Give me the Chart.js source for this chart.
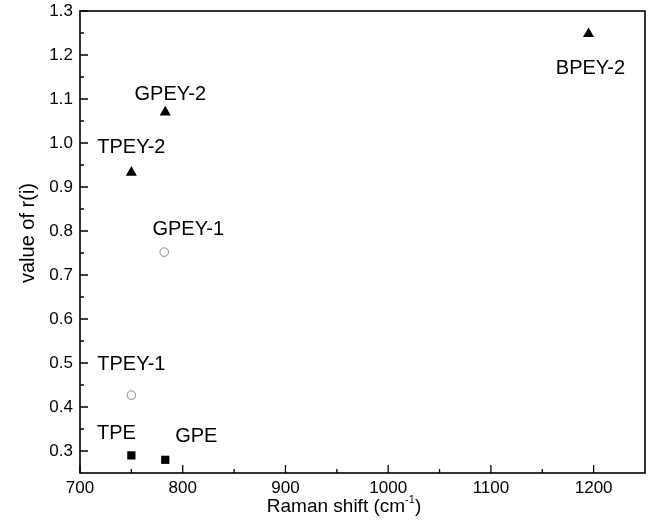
<!DOCTYPE html>
<html>
<head>
<meta charset="utf-8">
<script src="https://cdn.jsdelivr.net/npm/chart.js@4"></script>
<style>
  body { margin: 0; background: #fff; }
  #wrap { width: 652px; height: 528px; }
</style>
</head>
<body>
<div id="wrap"><canvas id="c" width="652" height="528"></canvas></div>
<script>
// r(i) values vs Raman shift
const squareNames = ['TPE', 'GPE'];
const squareX = [750, 783];
const squareY = [0.29, 0.28];

const circleNames = ['TPEY-1', 'GPEY-1'];
const circleX = [750, 782];
const circleY = [0.427, 0.752];

const triNames = ['TPEY-2', 'GPEY-2', 'BPEY-2'];
const triX = [750, 783, 1195];
const triY = [0.933, 1.07, 1.248];

const xTicks = [700, 800, 900, 1000, 1100, 1200];
const yTicks = [0.3, 0.4, 0.5, 0.6, 0.7, 0.8, 0.9, 1.0, 1.1, 1.2, 1.3];

// label offset from point (px), only for placing the text
const labelShift = {
    'TPE': [-15, -23], 'GPE': [31, -25],
    'TPEY-1': [0, -32], 'GPEY-1': [24, -24],
    'TPEY-2': [0, -26], 'GPEY-2': [5, -19], 'BPEY-2': [2, 33]
};

const FONT = '"Liberation Sans", Arial, sans-serif';

function pts(xs, ys, names) {
    return xs.map((x, i) => ({x: x, y: ys[i], name: names[i]}));
}

// frame, inward ticks, point labels, titles
const decorPlugin = {
    id: 'decor',
    afterDraw(chart) {
        const ctx = chart.ctx;
        const a = chart.chartArea;
        const xs = chart.scales.x, ys = chart.scales.y;
        ctx.save();
        ctx.strokeStyle = '#000';
        ctx.lineWidth = 1.6;
        ctx.strokeRect(a.left, a.top, a.right - a.left, a.bottom - a.top);

        ctx.lineWidth = 1.3;
        ctx.beginPath();
        xs.ticks.forEach(t => {
            const px = xs.getPixelForValue(t.value);
            ctx.moveTo(px, a.bottom); ctx.lineTo(px, a.bottom - 8);
            const mx = xs.getPixelForValue(t.value + 50);
            if (mx < a.right - 1) { ctx.moveTo(mx, a.bottom); ctx.lineTo(mx, a.bottom - 4); }
        });
        ys.ticks.forEach(t => {
            const py = ys.getPixelForValue(t.value);
            ctx.moveTo(a.left, py); ctx.lineTo(a.left + 8, py);
            const my = ys.getPixelForValue(t.value - 0.05);
            if (my < a.bottom - 1) { ctx.moveTo(a.left, my); ctx.lineTo(a.left + 4, my); }
        });
        ctx.stroke();

        // point labels
        ctx.fillStyle = '#000';
        ctx.font = '20px ' + FONT;
        ctx.textAlign = 'center';
        ctx.textBaseline = 'alphabetic';
        chart.data.datasets.forEach(ds => {
            ds.data.forEach(p => {
                const sh = labelShift[p.name] || [0, -20];
                const px = xs.getPixelForValue(p.x) + sh[0];
                const py = ys.getPixelForValue(p.y) + sh[1];
                ctx.fillText(p.name, px, py + 7);
            });
        });

        // x title with superscript
        ctx.textAlign = 'left';
        const t1 = 'Raman shift (cm';
        const sup = '-1';
        const t2 = ')';
        ctx.font = '19px ' + FONT;
        const w1 = ctx.measureText(t1).width, w3 = ctx.measureText(t2).width;
        ctx.font = '11px ' + FONT;
        const w2 = ctx.measureText(sup).width;
        let x0 = 344 - (w1 + w2 + w3) / 2;
        const by = 512;
        ctx.font = '19px ' + FONT;
        ctx.fillText(t1, x0, by);
        ctx.font = '11px ' + FONT;
        ctx.fillText(sup, x0 + w1, by - 9);
        ctx.font = '19px ' + FONT;
        ctx.fillText(t2, x0 + w1 + w2, by);

        // y title
        ctx.translate(28, 233);
        ctx.rotate(-Math.PI / 2);
        ctx.textAlign = 'center';
        ctx.textBaseline = 'middle';
        ctx.font = '20px ' + FONT;
        ctx.fillText('value of r(i)', 0, 0);
        ctx.restore();
    }
};

new Chart(document.getElementById('c'), {
    type: 'scatter',
    data: {
        datasets: [
            {
                data: pts(squareX, squareY, squareNames),
                pointStyle: 'rect',
                pointRadius: 5.8,
                backgroundColor: '#000',
                borderWidth: 0,
            },
            {
                data: pts(circleX, circleY, circleNames),
                pointStyle: 'circle',
                pointRadius: 4.3,
                backgroundColor: '#fff',
                borderColor: '#8a8a8a',
                borderWidth: 1,
            },
            {
                data: pts(triX, triY, triNames),
                pointStyle: 'triangle',
                pointRadius: 6.4,
                backgroundColor: '#000',
                borderWidth: 0,
            }
        ]
    },
    options: {
        responsive: false,
        animation: false,
        layout: { padding: { top: 11, right: 7, left: 0, bottom: 0 } },
        plugins: {
            legend: { display: false },
            tooltip: { enabled: false },
        },
        scales: {
            x: {
                type: 'linear',
                min: 700,
                max: 1250,
                afterBuildTicks: s => { s.ticks = xTicks.map(v => ({value: v})); },
                afterFit: s => { s.height = 55; s.paddingLeft = 0; s.paddingRight = 0; },
                grid: { display: false, drawTicks: false },
                border: { display: false },
                ticks: {
                    padding: 5,
                    color: '#000',
                    font: { family: FONT, size: 17 },
                    maxRotation: 0,
                    callback: v => String(v),
                },
            },
            y: {
                type: 'linear',
                min: 0.25,
                max: 1.3,
                afterBuildTicks: s => { s.ticks = yTicks.map(v => ({value: v})); },
                afterFit: s => { s.width = 80; s.paddingTop = 0; s.paddingBottom = 0; },
                grid: { display: false, drawTicks: false },
                border: { display: false },
                ticks: {
                    padding: 7,
                    color: '#000',
                    font: { family: FONT, size: 17 },
                    callback: v => v.toFixed(1),
                },
            }
        }
    },
    plugins: [decorPlugin]
});
</script>
</body>
</html>
